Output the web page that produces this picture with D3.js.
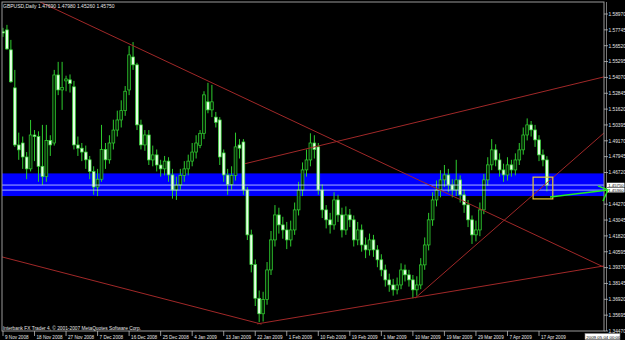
<!DOCTYPE html>
<html>
<head>
<meta charset="UTF-8">
<script src="https://d3js.org/d3.v7.min.js"></script>
<style>
  body { margin: 0; background: #000; }
  svg { display: block; }
  text { font-family: 'Liberation Sans', Arial, sans-serif; fill: #e6e6e6; }
</style>
</head>
<body>
<svg id="chart" width="625" height="340"></svg>
<script>
// GBPUSD daily bars, 9 Nov 2008 .. 20 Apr 2009
const opens = [1.5760,1.5774,1.5620,1.5326,1.4885,1.4900,1.4792,1.4700,1.4962,1.4950,
  1.4720,1.4640,1.4920,1.4900,1.5426,1.5310,1.5380,1.5388,1.5334,1.4885,
  1.4860,1.4830,1.4770,1.4680,1.4560,1.4620,1.4850,1.4770,1.4900,1.5000,
  1.5078,1.5150,1.5310,1.5565,1.5504,1.5040,1.4885,1.4962,1.4769,1.4808,
  1.4730,1.4700,1.4760,1.4653,1.4537,1.4576,1.4650,1.4700,1.4760,1.4830,
  1.4880,1.4975,1.5218,1.5156,1.5100,1.5078,1.4823,1.4653,1.4580,1.4650,
  1.4885,1.4908,1.4537,1.4190,1.3960,1.3700,1.3580,1.3690,1.3919,1.4151,
  1.4344,1.4267,1.4228,1.4151,1.4228,1.4383,1.4537,1.4692,1.4769,1.4900,
  1.4870,1.4537,1.4383,1.4306,1.4267,1.4460,1.4344,1.4228,1.4344,1.4306,
  1.4151,1.4228,1.4112,1.4074,1.4151,1.4074,1.3997,1.3919,1.3842,1.3803,
  1.3765,1.3803,1.3919,1.3881,1.3842,1.3765,1.3803,1.3958,1.4112,1.4306,
  1.4460,1.4537,1.4615,1.4653,1.4576,1.4537,1.4615,1.4499,1.4422,1.4306,
  1.4190,1.4228,1.4383,1.4615,1.4731,1.4847,1.4769,1.4692,1.4653,1.4731,
  1.4692,1.4769,1.4847,1.4962,1.5040,1.5001,1.4924,1.4808,1.4769];
const highs = [1.5790,1.5813,1.5697,1.5465,1.4980,1.4950,1.4830,1.5078,1.5000,1.4990,
  1.5040,1.5040,1.4960,1.5465,1.5527,1.5527,1.5420,1.5430,1.5380,1.4950,
  1.4900,1.4880,1.4800,1.4720,1.4700,1.5040,1.4900,1.4960,1.5080,1.5150,
  1.5230,1.5340,1.5650,1.5680,1.5520,1.5080,1.5000,1.5000,1.4880,1.4850,
  1.4770,1.4800,1.4790,1.4700,1.4640,1.4700,1.4760,1.4810,1.4900,1.4960,
  1.5000,1.5300,1.5365,1.5349,1.5140,1.5100,1.4850,1.4700,1.4720,1.4980,
  1.4930,1.4930,1.4560,1.4230,1.4000,1.3760,1.3750,1.3980,1.4220,1.4420,
  1.4400,1.4330,1.4290,1.4300,1.4440,1.4600,1.4750,1.4850,1.4975,1.4960,
  1.4900,1.4580,1.4420,1.4360,1.4520,1.4500,1.4400,1.4410,1.4390,1.4340,
  1.4290,1.4270,1.4170,1.4200,1.4190,1.4110,1.4040,1.3960,1.3890,1.3850,
  1.3860,1.3970,1.3960,1.3920,1.3880,1.3870,1.4010,1.4170,1.4360,1.4520,
  1.4610,1.4690,1.4730,1.4700,1.4620,1.4770,1.4650,1.4540,1.4460,1.4340,
  1.4300,1.4440,1.4660,1.4790,1.4930,1.4890,1.4820,1.4740,1.4790,1.4770,
  1.4820,1.4900,1.5020,1.5090,1.5070,1.5040,1.4960,1.4850,1.4798];
const lows = [1.5720,1.5620,1.5365,1.4870,1.4770,1.4700,1.4620,1.4680,1.4760,1.4600,
  1.4576,1.4600,1.4800,1.4880,1.5270,1.5156,1.5300,1.5290,1.4850,1.4800,
  1.4760,1.4700,1.4620,1.4500,1.4490,1.4600,1.4700,1.4740,1.4850,1.4950,
  1.5020,1.5110,1.5270,1.5465,1.5000,1.4850,1.4840,1.4730,1.4720,1.4680,
  1.4640,1.4650,1.4600,1.4470,1.4460,1.4540,1.4600,1.4650,1.4720,1.4780,
  1.4860,1.4930,1.5130,1.5100,1.5020,1.4730,1.4600,1.4500,1.4540,1.4610,
  1.4780,1.4500,1.4150,1.3900,1.3640,1.3515,1.3520,1.3650,1.3880,1.4100,
  1.4200,1.4160,1.4080,1.4100,1.4190,1.4340,1.4490,1.4640,1.4720,1.4780,
  1.4500,1.4320,1.4240,1.4200,1.4230,1.4290,1.4170,1.4190,1.4250,1.4100,
  1.4110,1.4060,1.4010,1.4030,1.4020,1.3940,1.3870,1.3790,1.3750,1.3720,
  1.3730,1.3770,1.3830,1.3790,1.3700,1.3720,1.3770,1.3920,1.4070,1.4260,
  1.4410,1.4480,1.4560,1.4520,1.4480,1.4490,1.4440,1.4360,1.4250,1.4120,
  1.4140,1.4180,1.4350,1.4570,1.4690,1.4720,1.4640,1.4600,1.4610,1.4640,
  1.4650,1.4730,1.4810,1.4920,1.4950,1.4870,1.4760,1.4720,1.4526];
const closes = [1.5750,1.5627,1.5373,1.4885,1.4847,1.4792,1.4700,1.4962,1.4950,1.4720,
  1.4640,1.4920,1.4885,1.5426,1.5310,1.5330,1.5395,1.5360,1.4885,1.4860,
  1.4830,1.4770,1.4680,1.4560,1.4620,1.4850,1.4770,1.4900,1.5000,1.5078,
  1.5150,1.5300,1.5581,1.5504,1.5040,1.4885,1.4962,1.4769,1.4808,1.4730,
  1.4700,1.4760,1.4653,1.4537,1.4576,1.4650,1.4700,1.4760,1.4830,1.4900,
  1.4975,1.5272,1.5156,1.5218,1.5060,1.4792,1.4653,1.4580,1.4650,1.4870,
  1.4860,1.4537,1.4190,1.3960,1.3700,1.3580,1.3690,1.3919,1.4151,1.4344,
  1.4267,1.4228,1.4151,1.4228,1.4383,1.4537,1.4692,1.4769,1.4900,1.4850,
  1.4537,1.4383,1.4306,1.4267,1.4460,1.4344,1.4228,1.4344,1.4306,1.4151,
  1.4228,1.4112,1.4074,1.4151,1.4074,1.3997,1.3919,1.3842,1.3803,1.3765,
  1.3803,1.3919,1.3881,1.3842,1.3765,1.3803,1.3958,1.4112,1.4306,1.4460,
  1.4537,1.4615,1.4653,1.4576,1.4537,1.4615,1.4499,1.4422,1.4306,1.4190,
  1.4228,1.4383,1.4615,1.4731,1.4847,1.4769,1.4692,1.4653,1.4731,1.4692,
  1.4769,1.4847,1.4962,1.5040,1.5001,1.4924,1.4808,1.4769,1.4575];

const priceTicks = ["1.58970","1.57745","1.56520","1.55295","1.54070","1.52845","1.51620","1.50395","1.49170","1.47945",
  "1.46720","1.44270","1.43045","1.41820","1.40595","1.39370","1.38145","1.36920","1.35695","1.34470"];
const dateTicks = ["9 Nov 2008","18 Nov 2008","27 Nov 2008","7 Dec 2008","16 Dec 2008","25 Dec 2008","4 Jan 2009","13 Jan 2009",
  "22 Jan 2009","1 Feb 2009","10 Feb 2009","19 Feb 2009","1 Mar 2009","10 Mar 2009","19 Mar 2009","29 Mar 2009","7 Apr 2009","17 Apr 2009"];
const dateTickStep = 8;

const title = "GBPUSD,Daily  1.47690 1.47980 1.45260 1.45750";
const copyright = "Interbank FX Trader 4, \u00a9 2001-2007 MetaQuotes Software Corp.";
const timeCursor = "2009.05.04 00:00";
const bidPrice = 1.4575, linePrice = 1.4536;
const bandPrices = [1.4665, 1.4490];
const boxBars = [134.5, 139.5], boxPrices = [1.4636, 1.4468];

// trend lines as [bar, price] pairs
const trendLines = [
  [[9.4, 1.5990], [152.5, 1.3940]],
  [[61.4, 1.4740], [152.5, 1.5411]],
  [[-0.3, 1.4020], [65.6, 1.3500]],
  [[64.5, 1.3502], [152.5, 1.3950]],
  [[104.6, 1.3702], [152.5, 1.4978]]
];
const arrowFrom = [138.8, 1.4483], arrowTo = [153.5, 1.4537];

const svg = d3.select("#chart");
const pLeft = 2, pRight = 604, pTop = 2, pBottom = 331;

const x = d3.scaleLinear().domain([0, 136]).range([3, 539]);
const y = d3.scaleLinear().domain([1.3447, 1.5897]).range([331, 14]);

svg.append("rect").attr("width", 625).attr("height", 340).attr("fill", "#000");

svg.append("clipPath").attr("id", "clip").append("rect")
  .attr("x", pLeft).attr("y", pTop).attr("width", pRight - pLeft).attr("height", pBottom - pTop);
const g = svg.append("g").attr("clip-path", "url(#clip)");

// blue band
g.append("rect").attr("x", pLeft).attr("width", pRight - pLeft)
  .attr("y", y(bandPrices[0])).attr("height", y(bandPrices[1]) - y(bandPrices[0]))
  .attr("fill", "#0000ff");

// candles
const bars = closes.map((c, i) => ({ i, o: opens[i], h: highs[i], l: lows[i], c }));
g.selectAll(".wick").data(bars).join("line")
  .attr("x1", d => x(d.i)).attr("x2", d => x(d.i))
  .attr("y1", d => y(d.h)).attr("y2", d => y(d.l))
  .attr("stroke", "#2ecc2e").attr("stroke-width", 1);
g.selectAll(".body").data(bars).join("rect")
  .attr("x", d => x(d.i) - 1.4).attr("width", 2.8)
  .attr("y", d => y(Math.max(d.o, d.c)))
  .attr("height", d => Math.max(0.8, Math.abs(y(d.o) - y(d.c))))
  .attr("fill", d => d.c > d.o ? "#062806" : "#e6ffe6")
  .attr("stroke", "#33d633").attr("stroke-width", 0.7);

// bid and horizontal line
[bidPrice, linePrice].forEach(p => {
  g.append("line").attr("x1", pLeft).attr("x2", pRight)
    .attr("y1", y(p)).attr("y2", y(p))
    .attr("stroke", "#d8e0ff").attr("stroke-width", 0.8);
});

// trend lines
trendLines.forEach(l => {
  g.append("line")
    .attr("x1", x(l[0][0])).attr("y1", y(l[0][1]))
    .attr("x2", x(l[1][0])).attr("y2", y(l[1][1]))
    .attr("stroke", "#a02828").attr("stroke-width", 1);
});

// yellow box
g.append("rect").attr("x", x(boxBars[0])).attr("y", y(boxPrices[0]))
  .attr("width", x(boxBars[1]) - x(boxBars[0])).attr("height", y(boxPrices[1]) - y(boxPrices[0]))
  .attr("fill", "none").attr("stroke", "#e8c830").attr("stroke-width", 1.2);

// frame
svg.append("rect").attr("x", pLeft).attr("y", pTop).attr("width", pRight - pLeft).attr("height", pBottom - pTop)
  .attr("fill", "none").attr("stroke", "#9a9a9a").attr("stroke-width", 1);
svg.append("line").attr("x1", 606.5).attr("x2", 606.5).attr("y1", pTop).attr("y2", pBottom)
  .attr("stroke", "#777").attr("stroke-width", 1);

// price axis
priceTicks.forEach(t => {
  const yy = y(+t);
  svg.append("line").attr("x1", pRight).attr("x2", pRight + 4).attr("y1", yy).attr("y2", yy)
    .attr("stroke", "#bbb").attr("stroke-width", 0.8);
  svg.append("text").attr("x", 608.5).attr("y", yy + 1.8).attr("font-size", 4.8).text(t);
});
[bidPrice, linePrice].forEach(p => {
  const yy = y(p);
  svg.append("rect").attr("x", 607).attr("y", yy - 2.3).attr("width", 17.5).attr("height", 4.6).attr("fill", "#fff");
  svg.append("text").attr("x", 608.2).attr("y", yy + 1.5).attr("font-size", 4.3).style("fill", "#000")
    .text(p.toFixed(5));
});

// time axis
dateTicks.forEach((t, k) => {
  const xx = x(k * dateTickStep);
  svg.append("line").attr("x1", xx).attr("x2", xx).attr("y1", pBottom).attr("y2", pBottom + 5)
    .attr("stroke", "#bbb").attr("stroke-width", 0.8);
  svg.append("text").attr("x", xx + 2).attr("y", 338.5).attr("font-size", 4.6).text(t);
});
svg.append("rect").attr("x", 585).attr("y", 333.5).attr("width", 35).attr("height", 6)
  .attr("fill", "#fff").attr("stroke", "#888").attr("stroke-width", 0.6);
svg.append("text").attr("x", 586.3).attr("y", 338.5).attr("font-size", 4.4).style("fill", "#000").text(timeCursor);

// green arrow
const ax1 = x(arrowFrom[0]), ay1 = y(arrowFrom[1]), ax2 = x(arrowTo[0]), ay2 = y(arrowTo[1]);
svg.append("line").attr("x1", ax1).attr("y1", ay1).attr("x2", ax2).attr("y2", ay2)
  .attr("stroke", "#22ee22").attr("stroke-width", 1.4);
svg.append("polyline").attr("points", `${ax2 - 10},${ay2 - 4} ${ax2},${ay2} ${ax2 - 5},${ay2 + 11}`)
  .attr("fill", "none").attr("stroke", "#22ee22").attr("stroke-width", 1.4);

// texts
svg.append("text").attr("x", 3).attr("y", 7.5).attr("font-size", 5).text(title);
svg.append("text").attr("x", 3).attr("y", 329.5).attr("font-size", 4.8).text(copyright);
</script>
</body>
</html>
